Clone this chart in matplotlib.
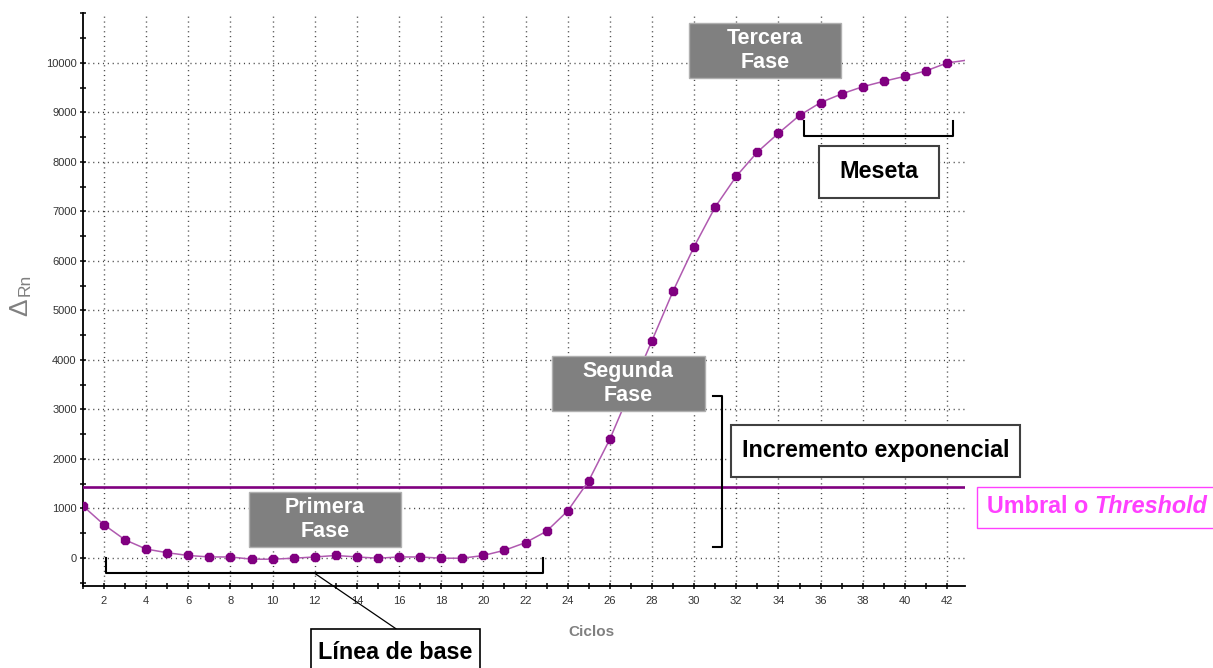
import matplotlib
matplotlib.use("Agg")
import matplotlib.pyplot as plt
from matplotlib.patches import Rectangle
from matplotlib.ticker import MultipleLocator

plt.rcParams["font.family"] = ["Liberation Sans", "DejaVu Sans"]

# qPCR amplification run: normalised reporter signal per cycle
cycles = list(range(1, 44))
delta_rn = [
    1050, 670, 365, 180, 105, 50, 20, 20, -25, -25,
    -5, 20, 50, 20, -5, 20, 20, -5, -5, 50,
    155, 310, 540, 950, 1560, 2400, 3400, 4390, 5390, 6290,
    7090, 7710, 8200, 8580, 8940, 9200, 9375, 9520, 9630, 9730,
    9840, 10000, 10060,
]
n_measured = 42          # the last reading only carries the trace to the edge
threshold = 1440

PURPLE = "#800080"
TRACE = "#b05ab0"
GREY_BOX = "#808080"
PINK = "#ff40ff"


def phase_box(ax, x0, x1, y0, y1, text):
    ax.add_patch(Rectangle((x0, y0), x1 - x0, y1 - y0, facecolor=GREY_BOX,
                           edgecolor="#b0b0b0", lw=1, zorder=5, clip_on=False))
    ax.text((x0 + x1) / 2, (y0 + y1) / 2, text, ha="center", va="center",
            color="white", fontsize=15.5, weight="bold", linespacing=1.15,
            zorder=6, clip_on=False)


def note_box(ax, x0, x1, y0, y1, text, edge="#404040", color="black",
             lw=1.5):
    ax.add_patch(Rectangle((x0, y0), x1 - x0, y1 - y0, facecolor="white",
                           edgecolor=edge, lw=lw, zorder=5, clip_on=False))
    ax.text((x0 + x1) / 2, (y0 + y1) / 2, text, ha="center", va="center",
            color=color, fontsize=16.8, weight="bold", zorder=6, clip_on=False)


fig = plt.figure(figsize=(12.13, 6.68), dpi=100)
ax = fig.add_axes([0.0684, 0.1228, 0.7271, 0.8578])

ax.set_xlim(1, 42.85)
ax.set_ylim(-566, 11010)

# dotted grid
for gx in range(2, 43, 2):
    ax.axvline(gx, color="#444444", lw=1.0, ls=(0, (0.8, 2.7)), zorder=1)
for gy in range(0, 10001, 1000):
    ax.axhline(gy, color="#444444", lw=1.0, ls=(0, (0.8, 2.7)), zorder=1)

ax.axhline(threshold, color=PURPLE, lw=1.9, zorder=3)

ax.plot(cycles, delta_rn, color=TRACE, lw=1.1, zorder=3)
ax.plot(cycles[:n_measured], delta_rn[:n_measured], ls="none", marker="8",
        ms=6.6, color=PURPLE, mec=PURPLE, zorder=4)

# axes styling
for side in ("top", "right"):
    ax.spines[side].set_visible(False)
for side in ("left", "bottom"):
    ax.spines[side].set_linewidth(1.3)
ax.xaxis.set_major_locator(MultipleLocator(2))
ax.xaxis.set_minor_locator(MultipleLocator(1))
ax.yaxis.set_major_locator(MultipleLocator(1000))
ax.yaxis.set_minor_locator(MultipleLocator(500))
ax.set_xticks(range(2, 43, 2))
ax.set_yticks(range(0, 10001, 1000))
ax.tick_params(which="both", direction="inout", length=5, width=1.1,
               labelsize=8, labelcolor="#333333")
ax.tick_params(axis="x", which="major", pad=5)
ax.tick_params(axis="y", which="major", pad=2)

ax.text(0.5765, -0.08, "Ciclos", transform=ax.transAxes, ha="center",
        va="center", fontsize=11, weight="bold", color="#808080")
fig.text(0.0264, 0.527, "Δ", rotation=90, ha="right", va="bottom",
         fontsize=19, color="#808080")
fig.text(0.0270, 0.557, "Rn", rotation=90, ha="right", va="bottom",
         fontsize=12.5, color="#808080")

# phase labels
phase_box(ax, 8.88, 16.09, 222, 1333, "Primera\nFase")
phase_box(ax, 23.25, 30.51, 2970, 4080, "Segunda\nFase")
phase_box(ax, 29.75, 36.97, 9697, 10807, "Tercera\nFase")

# baseline bracket and its label
bk = dict(color="black", lw=1.5, zorder=5, clip_on=False)
ax.plot([2.09, 2.09, 22.81, 22.81], [0, -300, -300, 0], **bk)
ax.plot([11.96, 15.85], [-300, -1430], color="black", lw=0.9, zorder=5,
        clip_on=False)
note_box(ax, 11.80, 19.85, -2400, -1430, "Línea de base", edge="black",
         lw=1.2)

# exponential growth bracket
ax.plot([30.89, 31.32, 31.32, 30.89], [3279, 3279, 228, 228], **bk)
note_box(ax, 31.75, 45.46, 1636, 2687, "Incremento exponencial")

# plateau bracket
ax.plot([35.23, 35.23, 42.28, 42.28], [8827, 8524, 8524, 8827], **bk)
note_box(ax, 35.92, 41.62, 7273, 8323, "Meseta")

# threshold label: upright lead-in followed by the italic English term
ax.add_patch(Rectangle((43.42, 606), 11.5, 828, facecolor="white",
                       edgecolor=PINK, lw=1.0, zorder=5, clip_on=False))
lead = ax.text(43.9, 1030, "Umbral o ", ha="left", va="center", color=PINK,
               fontsize=16.8, weight="bold", zorder=6, clip_on=False)
ax.annotate("Threshold", xy=(1, 0), xycoords=lead, ha="left", va="bottom",
            color=PINK, fontsize=16.8, weight="bold", style="italic",
            zorder=6, annotation_clip=False)

fig.savefig("out.png", dpi=100)
